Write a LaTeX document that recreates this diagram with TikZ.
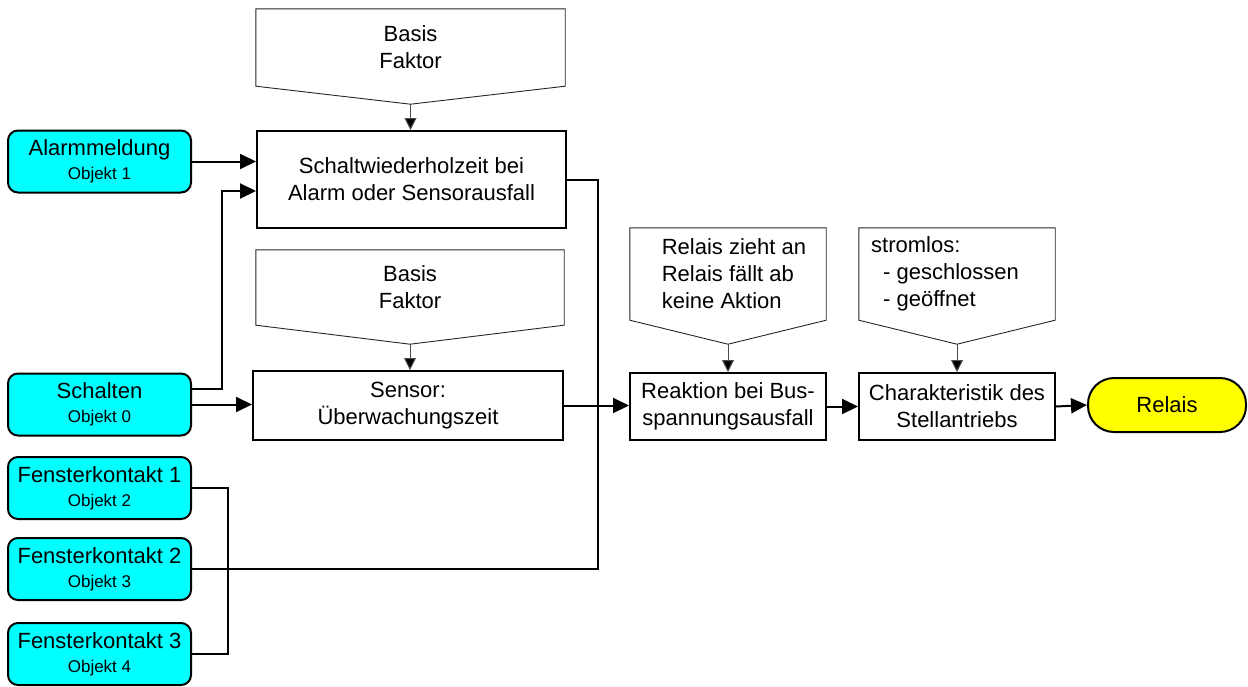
\documentclass[tikz,border=0pt]{standalone}
\usepackage{fontspec}
\setmainfont{Liberation Sans}
\usetikzlibrary{calc,arrows.meta}
\definecolor{objcyan}{RGB}{0,255,255}
\definecolor{relyellow}{RGB}{255,255,0}
\newcommand\boxfont{\fontsize{22}{27}\selectfont}
\newcommand\objname{\fontsize{22}{24}\selectfont}
\newcommand\objnum{\fontsize{17}{24}\selectfont}
\tikzset{
  objbox/.style={draw=black,line width=2pt,fill=objcyan,rounded corners=10pt,
    minimum width=183pt,minimum height=62pt,inner sep=0pt,align=center,font=\objname},
  stepbox/.style={draw=black,line width=2pt,inner sep=0pt,align=center,font=\boxfont},
  parambox/.style={inner sep=0pt,font=\boxfont},
  paramline/.style={draw=black!85,line width=0.9pt},
  conn/.style={line width=2pt,-{Triangle[length=16pt,width=15pt]}},
  wire/.style={line width=2pt},
  paramconn/.style={draw=black!70,line width=1pt,-{Triangle[length=12pt,width=12pt,fill=black]}}
}
\def\objnode{\node[objbox]}
\def\stepnode{\node[stepbox]}
\def\paramnode{\node[parambox]}
\def\drawparam#1#2{\draw[paramline] (#1.north west) -- (#1.north east) -- (#1.south east)
  -- ($(#1.south)+(0,#2)$) -- (#1.south west) -- cycle;
  \coordinate (#1tip) at ($(#1.south)+(0,#2)$);}

\begin{document}
\begin{tikzpicture}[x=1pt,y=-1pt]
\useasboundingbox (0,0) rectangle (1248,686);

% inputs
\objnode (alarm) at (99.5,161.5) {Alarmmeldung\\{\objnum Objekt 1}};
\objnode (schalten) at (99.5,404.5) {Schalten\\{\objnum Objekt 0}};
\objnode (fk1) at (99.5,488) {Fensterkontakt 1\\{\objnum Objekt 2}};
\objnode (fk2) at (99.5,569) {Fensterkontakt 2\\{\objnum Objekt 3}};
\objnode (fk3) at (99.5,654) {Fensterkontakt 3\\{\objnum Objekt 4}};

% function blocks
\stepnode[minimum width=309pt,minimum height=97pt] (schalt) at (411.5,179.5)
  {Schaltwiederholzeit bei\\Alarm oder Sensorausfall};
\stepnode[minimum width=310pt,minimum height=69pt] (sensor) at (408,405.5)
  {Sensor:\\Überwachungszeit};
\stepnode[minimum width=196pt,minimum height=67pt] (reak) at (728,406.5)
  {Reaktion bei Bus-\\spannungsausfall};
\stepnode[minimum width=196pt,minimum height=67pt] (char) at (957,406.5)
  {Charakteristik des\\Stellantriebs};
\node[draw=black,line width=2pt,fill=relyellow,rounded corners=26pt,minimum width=158pt,
  minimum height=54pt,font=\boxfont] (relais) at (1167,405) {Relais};

% parameters
\paramnode[minimum width=309pt,minimum height=77pt,align=center] (bf1) at (410.5,47.5) {Basis\\Faktor};
\paramnode[minimum width=308pt,minimum height=75pt,align=center] (bf2) at (410,287.5) {Basis\\Faktor};
\paramnode[minimum width=196pt,minimum height=92pt,align=left] (busp) at (728,274)
  {\hspace*{12pt}Relais zieht an\\\hspace*{12pt}Relais fällt ab\\\hspace*{12pt}keine Aktion};
\paramnode[minimum width=196pt,minimum height=92pt,align=left] (charp) at (957,274)
  {stromlos:\\\hspace*{12pt}- geschlossen\makebox[24pt]{}\\\hspace*{12pt}- geöffnet};
\drawparam{bf1}{18}
\drawparam{bf2}{19}
\drawparam{busp}{24}
\drawparam{charp}{24}
\draw[paramconn] (bf1tip) -- (bf1tip |- schalt.north);
\draw[paramconn] (bf2tip) -- (bf2tip |- sensor.north);
\draw[paramconn] (busptip) -- (busptip |- reak.north);
\draw[paramconn] (charptip) -- (charptip |- char.north);

% connections
\draw[conn] (alarm.east) -- (schalt.west |- alarm.east);
\draw[conn] ([yshift=15.5pt]schalten.east) -- ++(30,0) |- ([yshift=-11.5pt]schalt.west);
\draw[conn] (schalten.east) -- (sensor.west |- schalten.east);
\draw[wire] (fk1.east) -- ++(36,0) |- (fk3.east);
\draw[wire] (fk2.east) -| ($(schalt.east)+(31,0)$) -- (schalt.east);
\draw[conn] (sensor.east) -- (reak.west |- sensor.east);
\draw[conn] (reak.east) -- (char.west);
\draw[conn] (char.east) -- (relais.west);
\end{tikzpicture}
\end{document}
